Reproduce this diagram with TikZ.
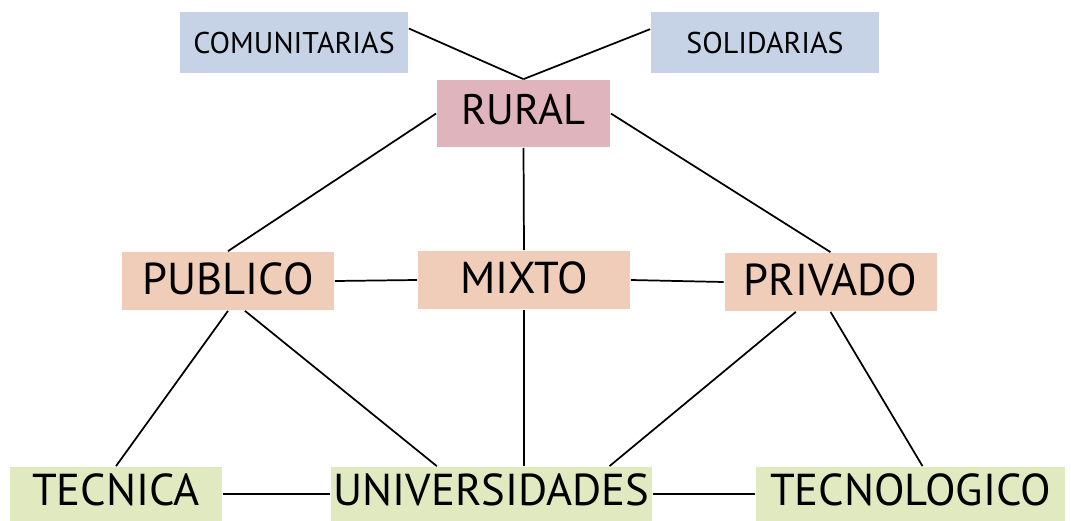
\documentclass[tikz,border=0pt]{standalone}
\usepackage{fontspec}
\setmainfont{PT Sans}
\definecolor{catblue}{RGB}{198,211,230}
\definecolor{zonapink}{RGB}{223,180,189}
\definecolor{sectpeach}{RGB}{239,205,184}
\definecolor{instgreen}{RGB}{225,233,192}
\begin{document}
\begin{tikzpicture}[x=0.75pt,y=-0.75pt,line width=1.3pt]
  \tikzset{box/.style={rectangle,inner sep=0pt},
    cat/.style={box,fill=catblue,minimum width=171pt,minimum height=45.75pt,font=\fontsize{22.5}{25}\selectfont},
    zona/.style={box,fill=zonapink,minimum width=129.75pt,minimum height=50.25pt,text depth=6pt,font=\fontsize{32}{36}\selectfont},
    sector/.style={box,fill=sectpeach,minimum width=159pt,minimum height=43.5pt,text depth=3.5pt,font=\fontsize{33.5}{36}\selectfont},
    inst/.style={box,fill=instgreen,minimum height=40.5pt,text depth=6pt,font=\fontsize{33.5}{36}\selectfont}}
  \useasboundingbox (0,0) rectangle (1071,521);
  \node[cat] (com) at (294,42.5) {COMUNITARIAS};
  \node[cat] (sol) at (765,42.5) {SOLIDARIAS};
  \node[zona] (rural) at (523.5,113.5) {RURAL};
  \node[sector] (pub) at (228,281) {PUBLICO};
  \node[sector] (mix) at (524,280) {MIXTO};
  \node[sector] (priv) at (830.5,282) {PRIVADO};
  \node[inst,minimum width=159pt] (tec) at (116,494) {TECNICA};
  \node[inst,minimum width=240.75pt] (univ) at (491.5,494) {UNIVERSIDADES};
  \node[inst,minimum width=231.75pt] (tecn) at (910.5,494) {TECNOLOGICO};
  \draw ([yshift=10.5pt]com.east) -- (rural.north);
  \draw ([yshift=10pt]sol.west) -- (rural.north);
  \draw (rural.west) -- (pub.north);
  \draw (rural.south) -- (mix.north);
  \draw (rural.east) -- (priv.north);
  \draw (pub.east) -- (mix.west);
  \draw (mix.east) -- (priv.west);
  \draw (pub.south) -- (tec.north);
  \draw ([xshift=12.75pt]pub.south) -- ([xshift=-41pt]univ.north);
  \draw (mix.south) -- (mix.south |- univ.north);
  \draw ([xshift=-26pt]priv.south) -- ([xshift=88.5pt]univ.north);
  \draw (priv.south) -- ([xshift=9pt]tecn.north);
  \draw (tec.east) -- (univ.west);
  \draw (univ.east) -- (tecn.west);
\end{tikzpicture}
\end{document}
